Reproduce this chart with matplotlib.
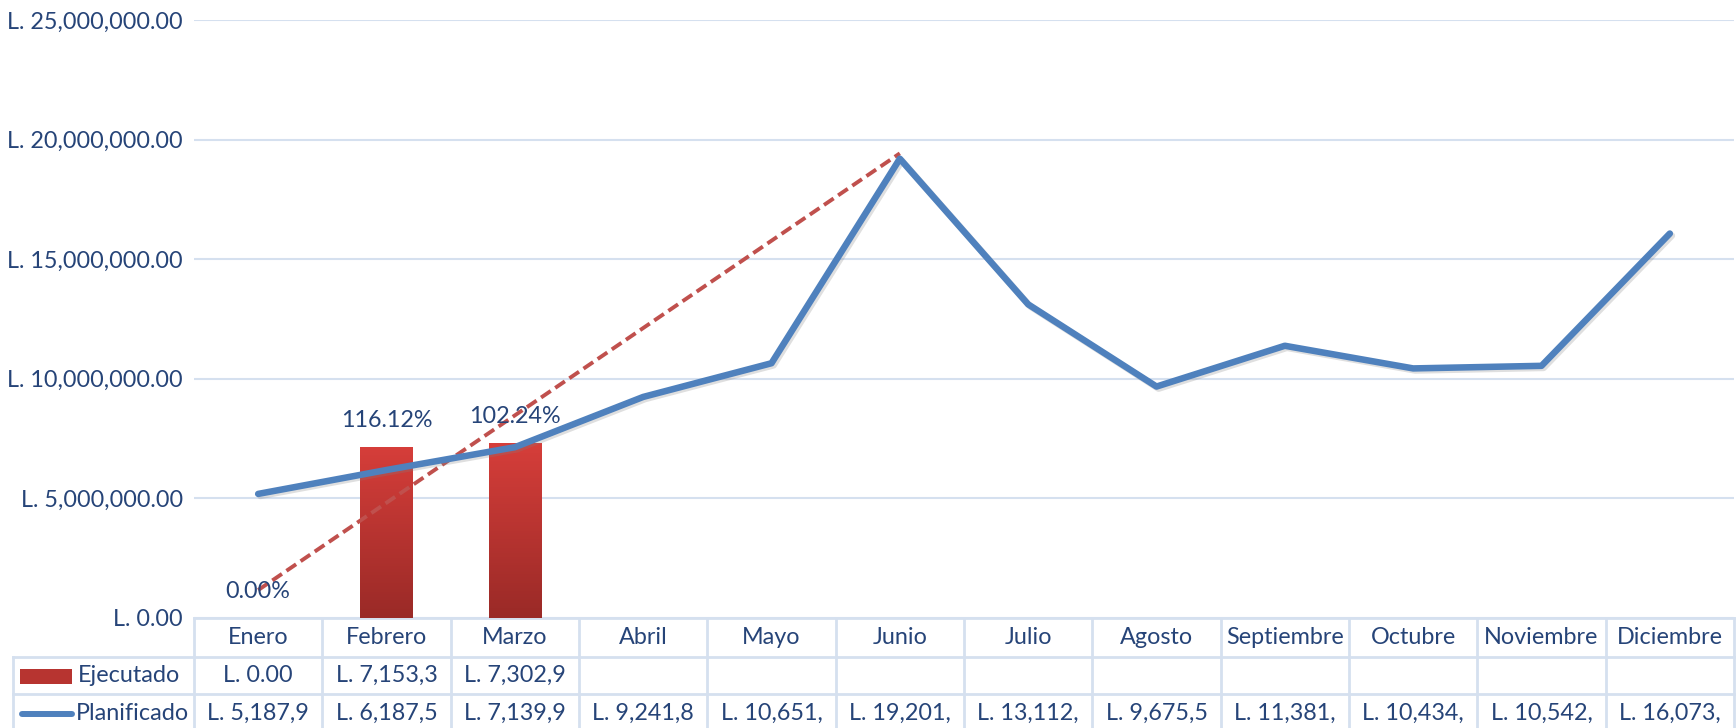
import numpy as np
import matplotlib
matplotlib.use("Agg")
import matplotlib.pyplot as plt
from matplotlib import patheffects as pe
from matplotlib.colors import LinearSegmentedColormap
from matplotlib.patches import Rectangle
from matplotlib.ticker import FuncFormatter

plt.rcParams['font.family'] = ['Lato', 'DejaVu Sans']

meses = ['Enero', 'Febrero', 'Marzo', 'Abril', 'Mayo', 'Junio', 'Julio',
         'Agosto', 'Septiembre', 'Octubre', 'Noviembre', 'Diciembre']
planificado = [5187900, 6187500, 7139900, 9241800, 10651000, 19201000,
               13112000, 9675500, 11381000, 10434000, 10542000, 16073000]
ejecutado = [0, 7153300, 7302900]
porcentajes = ['0.00%', '116.12%', '102.24%']
tabla_ejec = ['L. 0.00', 'L. 7,153,3', 'L. 7,302,9']
tabla_plan = ['L. 5,187,9', 'L. 6,187,5', 'L. 7,139,9', 'L. 9,241,8', 'L. 10,651,',
              'L. 19,201,', 'L. 13,112,', 'L. 9,675,5', 'L. 11,381,', 'L. 10,434,',
              'L. 10,542,', 'L. 16,073,']

txt = '#264478'
azul = '#4F81BD'
rojo = '#C0504D'
borde = '#D5E0EF'
fs = 16.8

W, H = 1736, 728
left_px, right_px, top_px, base_px = 194, 1734, 20, 618
fig = plt.figure(figsize=(W / 100, H / 100), dpi=100)
ax = fig.add_axes([left_px / W, (H - base_px) / H,
                   (right_px - left_px) / W, (base_px - top_px) / H])

x = np.arange(len(meses))

# barras con degradado
bars = ax.bar(np.arange(len(ejecutado)), ejecutado, width=0.41, color='#B73430', zorder=2)
cmap = LinearSegmentedColormap.from_list('rojo', ['#9A2A27', '#D63E3A'])
grad = np.linspace(0, 1, 200).reshape(-1, 1)
for b in bars:
    if b.get_height() <= 0:
        continue
    im = ax.imshow(grad, extent=[b.get_x(), b.get_x() + b.get_width(), 0, b.get_height()],
                   origin='lower', aspect='auto', cmap=cmap, zorder=2)
    im.set_clip_path(b)

# linea de tendencia lineal (pronostico hacia adelante)
xf = np.arange(1, len(ejecutado) + 1)
coef = np.polyfit(xf, ejecutado, 1)
xt = np.arange(1, 7)
ax.plot(xt - 1, np.polyval(coef, xt), color=rojo, lw=2.8, ls=(0, (3.0, 1.4)), zorder=3)

# planificado
ax.plot(x, planificado, color=azul, lw=4.7, solid_capstyle='round', solid_joinstyle='round',
        zorder=4, path_effects=[pe.SimpleLineShadow(offset=(1.5, -1.5), alpha=0.25,
                                                    shadow_color='gray'), pe.Normal()])

for i, (v, s) in enumerate(zip(ejecutado, porcentajes)):
    ax.annotate(s, (i, v), xytext=(0, 19), textcoords='offset points', ha='center',
                va='center', fontsize=fs, color=txt, zorder=5)

ax.set_xlim(-0.5, len(meses) - 0.5)
ax.set_ylim(0, 25e6)
ax.set_yticks(np.arange(0, 25e6 + 1, 5e6))
ax.yaxis.set_major_formatter(FuncFormatter(lambda v, p: f'L. {v:,.2f}'))
ax.tick_params(axis='y', length=0, pad=8, labelsize=fs, labelcolor=txt)
ax.set_xticks([])
for s in ax.spines.values():
    s.set_visible(False)
ax.yaxis.grid(True, color=borde, lw=1.5)
ax.set_axisbelow(True)

# tabla de datos
trans = ax.get_xaxis_transform()
ax_h = base_px - top_px
col_w = (right_px - left_px) / len(meses)


def fy(px):
    return -px / ax_h


def fx(px):
    return -0.5 + (px - left_px) / col_w


filas = [0, 39, 76, 115]
x_leg = fx(13)
lk = dict(color=borde, lw=2, transform=trans, clip_on=False, zorder=1)
ax.plot([-0.5, len(meses) - 0.5], [fy(0), fy(0)], **lk)
for r in filas[1:3]:
    ax.plot([x_leg, len(meses) - 0.5], [fy(r), fy(r)], **lk)
for i in range(len(meses) + 1):
    ax.plot([i - 0.5, i - 0.5], [fy(0), fy(filas[-1])], **lk)
ax.plot([x_leg, x_leg], [fy(filas[1]), fy(filas[-1])], **lk)

cy = [(filas[k] + filas[k + 1]) / 2 for k in range(3)]
for i, m in enumerate(meses):
    ax.text(i, fy(cy[0]), m, transform=trans, ha='center', va='center',
            fontsize=fs, color=txt, clip_on=False)
for i, s in enumerate(tabla_ejec):
    ax.text(i, fy(cy[1]), s, transform=trans, ha='center', va='center',
            fontsize=fs, color=txt, clip_on=False)
for i, s in enumerate(tabla_plan):
    ax.text(i, fy(cy[2]), s, transform=trans, ha='center', va='center',
            fontsize=fs, color=txt, clip_on=False)

# leyenda dentro de la tabla
ax.add_patch(Rectangle((fx(20), fy(cy[1] + 8)), fx(72) - fx(20), fy(0) - fy(15),
                       transform=trans, clip_on=False, facecolor='#B73430',
                       edgecolor='none'))
ax.plot([fx(22), fx(72)], [fy(cy[2]), fy(cy[2])], color=azul, lw=4.3,
        solid_capstyle='round', transform=trans, clip_on=False)
ax.text(fx(78), fy(cy[1]), 'Ejecutado', transform=trans, ha='left', va='center',
        fontsize=fs, color=txt, clip_on=False)
ax.text(fx(76), fy(cy[2]), 'Planificado', transform=trans, ha='left', va='center',
        fontsize=fs, color=txt, clip_on=False)

fig.savefig('out.png', dpi=100)
